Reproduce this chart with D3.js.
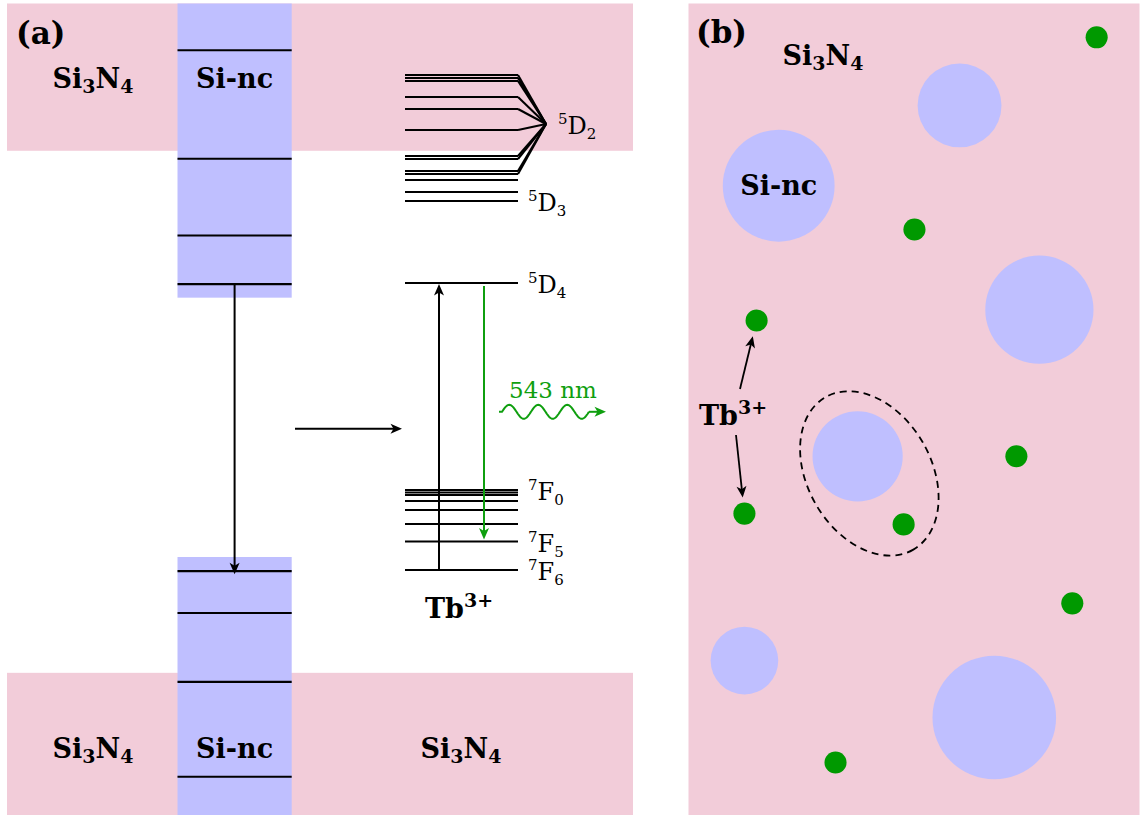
<!DOCTYPE html>
<html>
<head>
<meta charset="utf-8">
<script src="https://cdn.jsdelivr.net/npm/d3@7"></script>
<style>
  html, body { margin: 0; padding: 0; background: #fff; }
  svg { display: block; }
</style>
</head>
<body>
<svg id="fig" width="1140" height="815"></svg>
<script>
// ---------- Energy data (eV, relative to the Tb3+ 7F6 ground state) ----------
const matrixBandEdges = [3.71, -0.91];              // Si3N4 conduction / valence band edge
const ncBandEdges = [2.41, 0.115];                  // Si-nc conduction / valence band edge
const ncConductionLevels = [4.60, 3.64, 2.96, 2.53];
const ncValenceLevels = [-0.01, -0.38, -0.99, -1.83];
const tb5D2Levels = [4.381, 4.354, 4.327, 4.186, 4.080, 3.894, 3.664, 3.637, 3.531, 3.504];
const tb5D2Centroid = 3.947;
const tb5D3Levels = [3.451, 3.345, 3.265];
const tb5D4Levels = [2.54];
const tb7FLevels = [0.708, 0.686, 0.664, 0.611, 0.531, 0.407, 0.252, 0.0];
const termNames = [["5", "D", "2"], ["5", "D", "3"], ["5", "D", "4"], ["7", "F", "0"], ["7", "F", "5"], ["7", "F", "6"]];
const termEnergies = [3.947, 3.265, 2.54, 0.708, 0.252, 0.0];
const transferEnergy = 1.25;     // Si-nc -> Tb3+ energy transfer arrow
const emissionEnergy = 1.40;     // height of the photon arrow
const emissionLabel = "543 nm";

// ---------- Panel (b): film cross-section, positions in nm ----------
const ncX = [60.1, 20.0, 77.8, 37.5, 12.4, 67.8];
const ncY = [22.6, 40.4, 67.9, 100.4, 145.7, 158.3];
const ncR = [9.3, 12.4, 12.0, 10.0, 7.5, 13.7];
const tbX = [90.5, 50.1, 15.1, 72.7, 12.4, 47.7, 85.1, 32.6];
const tbY = [7.5, 50.1, 70.3, 100.4, 113.1, 115.5, 133.0, 168.3];
const tbR = 2.45;
const coupledPair = { cx: 40.1, cy: 104.2, rx: 19.5, ry: 13.7, angle: 60 };
const pointedIons = [2, 4];      // Tb3+ ions indicated by the label arrows

// ---------- Styling ----------
const PINK = "#f2ccd9", BLUE = "#bfbfff", GREEN = "#0f9f0f", DOT = "#009900";
const SERIF = "'DejaVu Serif', serif";

const svg = d3.select("#fig");
const H = 815;

// Energy axis shared by the whole band diagram
const yE = d3.scaleLinear().domain([-2, 5]).range([796, 5]);

// Panel (b) coordinate scales
const xB = d3.scaleLinear().domain([0, 100]).range([688.5, 1139.5]);
const yB = d3.scaleLinear().domain([0, 180]).range([3.5, 815.3]);
const rB = d3.scaleLinear().domain([0, 100]).range([0, 451]);

// Arrow markers
const defs = svg.append("defs");
function addMarker(id, color) {
  defs.append("marker")
    .attr("id", id)
    .attr("viewBox", "-7 -7 15 14")
    .attr("markerUnits", "userSpaceOnUse")
    .attr("markerWidth", 15).attr("markerHeight", 14)
    .attr("refX", 0).attr("refY", 0)
    .attr("orient", "auto")
    .append("path")
    .attr("d", "M6.5,0 L-5,-5 L-2,0 L-5,5 Z")
    .attr("fill", color);
}
addMarker("arrK", "#000");
addMarker("arrG", GREEN);

// Arrow whose head tip lands on (x2, y2)
function arrow(g, x1, y1, x2, y2, color, width) {
  const dx = x2 - x1, dy = y2 - y1, L = Math.hypot(dx, dy);
  const ex = x2 - dx / L * 6.5, ey = y2 - dy / L * 6.5;
  g.append("line")
    .attr("x1", x1).attr("y1", y1).attr("x2", ex).attr("y2", ey)
    .attr("stroke", color).attr("stroke-width", width)
    .attr("marker-end", color === GREEN ? "url(#arrG)" : "url(#arrK)");
}

// Text helper: parts are {t, size, dy}
function richText(g, x, y, parts, anchor, weight, fill) {
  const t = g.append("text")
    .attr("x", x).attr("y", y)
    .attr("text-anchor", anchor || "start")
    .attr("font-family", SERIF)
    .attr("font-weight", weight || "normal")
    .attr("fill", fill || "#000");
  parts.forEach(p => {
    t.append("tspan").attr("font-size", p.size).attr("dy", p.dy || 0).text(p.t);
  });
  return t;
}
const si3n4 = [
  { t: "Si", size: 27 }, { t: "3", size: 19, dy: 5 },
  { t: "N", size: 27, dy: -5 }, { t: "4", size: 19, dy: 5 }
];
const tb3 = [{ t: "Tb", size: 27 }, { t: "3+", size: 19, dy: -11 }];

// ================= Panel (a): energy diagram =================
const a = svg.append("g");
const bandX0 = 7, bandX1 = 633;
const colX0 = 177.5, colX1 = 291.7, colMid = (colX0 + colX1) / 2;
const lvX0 = 405, lvX1 = 518, fanX = 546, termX = 528;

// Si3N4 matrix bands
a.append("rect").attr("x", bandX0).attr("y", 3.5)
  .attr("width", bandX1 - bandX0).attr("height", yE(matrixBandEdges[0]) - 3.5)
  .attr("fill", PINK);
a.append("rect").attr("x", bandX0).attr("y", yE(matrixBandEdges[1]))
  .attr("width", bandX1 - bandX0).attr("height", H - yE(matrixBandEdges[1]))
  .attr("fill", PINK);

// Si-nc bands
a.append("rect").attr("x", colX0).attr("y", 3.5)
  .attr("width", colX1 - colX0).attr("height", yE(ncBandEdges[0]) - 3.5)
  .attr("fill", BLUE);
a.append("rect").attr("x", colX0).attr("y", yE(ncBandEdges[1]))
  .attr("width", colX1 - colX0).attr("height", H - yE(ncBandEdges[1]))
  .attr("fill", BLUE);

// Si-nc confined levels
a.selectAll("line.nc")
  .data(ncConductionLevels.concat(ncValenceLevels))
  .join("line").attr("class", "nc")
  .attr("x1", colX0).attr("x2", colX1)
  .attr("y1", d => yE(d)).attr("y2", d => yE(d))
  .attr("stroke", "#000").attr("stroke-width", 2.1);

// Tb3+ levels
const allTb = tb5D2Levels.concat(tb5D3Levels, tb5D4Levels, tb7FLevels);
a.selectAll("line.tb")
  .data(allTb)
  .join("line").attr("class", "tb")
  .attr("x1", lvX0).attr("x2", lvX1)
  .attr("y1", d => yE(d)).attr("y2", d => yE(d))
  .attr("stroke", "#000").attr("stroke-width", 2.1);

// 5D2 multiplet gathered to its label
a.selectAll("line.fan")
  .data(tb5D2Levels)
  .join("line").attr("class", "fan")
  .attr("x1", lvX1).attr("x2", fanX)
  .attr("y1", d => yE(d)).attr("y2", yE(tb5D2Centroid))
  .attr("stroke", "#000").attr("stroke-width", 2.1);

// Term symbols
termNames.forEach((n, i) => {
  const x = i === 0 ? fanX + 12 : termX;
  richText(a, x, yE(termEnergies[i]) + 10, [
    { t: n[0], size: 15, dy: -10 },
    { t: n[1], size: 24, dy: 10 },
    { t: n[2], size: 15, dy: 5 }
  ]);
});

// Relaxation inside the Si-nc
arrow(a, colMid, yE(ncConductionLevels[3]), colMid, yE(ncValenceLevels[0]) + 3, "#000", 2);

// Energy transfer to Tb3+
arrow(a, 295, yE(transferEnergy), 402, yE(transferEnergy), "#000", 2);

// Tb3+ excitation and 5D4 -> 7F5 emission
arrow(a, 439, yE(tb7FLevels[7]) - 1, 439, yE(tb5D4Levels[0]) + 1, "#000", 2);
arrow(a, 484, yE(tb5D4Levels[0]) + 3, 484, yE(tb7FLevels[6]) - 2, GREEN, 2);

// Emitted photon
const yW = yE(emissionEnergy);
const wx0 = 499, ws = 502, period = 29, nPer = 3, amp = 7;
const wavePts = [[wx0, yW], [ws, yW]];
for (let k = 0; k <= nPer * 40; k++) {
  const x = ws + k * period / 40;
  wavePts.push([x, yW - amp * Math.sin(2 * Math.PI * (x - ws) / period)]);
}
const wEnd = ws + nPer * period;
a.append("path")
  .attr("d", d3.line()(wavePts))
  .attr("fill", "none").attr("stroke", GREEN).attr("stroke-width", 2);
arrow(a, wEnd, yW, 606, yW, GREEN, 2);
richText(a, 553, 398, [{ t: emissionLabel, size: 23 }], "middle", "normal", GREEN);

// Labels
richText(a, 16, 44, [{ t: "(a)", size: 31 }], "start", "bold");
richText(a, 93, 88, si3n4, "middle", "bold");
richText(a, colMid, 88, [{ t: "Si-nc", size: 27 }], "middle", "bold");
richText(a, 93, 758, si3n4, "middle", "bold");
richText(a, colMid, 758, [{ t: "Si-nc", size: 27 }], "middle", "bold");
richText(a, 461, 758, si3n4, "middle", "bold");
richText(a, 459, 618, tb3, "middle", "bold");

// ================= Panel (b): film cross-section =================
const b = svg.append("g");
b.append("rect").attr("x", xB(0)).attr("y", yB(0))
  .attr("width", xB(100) - xB(0)).attr("height", H - yB(0))
  .attr("fill", PINK);

b.selectAll("circle.nc")
  .data(ncX.map((x, i) => ({ x, y: ncY[i], r: ncR[i] })))
  .join("circle").attr("class", "nc")
  .attr("cx", d => xB(d.x)).attr("cy", d => yB(d.y)).attr("r", d => rB(d.r))
  .attr("fill", BLUE);

b.selectAll("circle.tb")
  .data(tbX.map((x, i) => ({ x, y: tbY[i] })))
  .join("circle").attr("class", "tb")
  .attr("cx", d => xB(d.x)).attr("cy", d => yB(d.y)).attr("r", rB(tbR))
  .attr("fill", DOT);

// Coupled Si-nc / Tb3+ pair
b.append("ellipse")
  .attr("cx", xB(coupledPair.cx)).attr("cy", yB(coupledPair.cy))
  .attr("rx", rB(coupledPair.rx)).attr("ry", rB(coupledPair.ry))
  .attr("transform", `rotate(${coupledPair.angle},${xB(coupledPair.cx)},${yB(coupledPair.cy)})`)
  .attr("fill", "none").attr("stroke", "#000")
  .attr("stroke-width", 1.8).attr("stroke-dasharray", "7 5");

richText(b, 696, 43, [{ t: "(b)", size: 31 }], "start", "bold");
richText(b, 823, 65, si3n4, "middle", "bold");
richText(b, xB(ncX[1]), yB(ncY[1]) + 9, [{ t: "Si-nc", size: 27 }], "middle", "bold");
richText(b, 733, 425, tb3, "middle", "bold");

// Label arrows towards individual Tb3+ ions
const starts = [[740, 389], [736, 435]];
pointedIons.forEach((idx, k) => {
  const tx = xB(tbX[idx]), ty = yB(tbY[idx]);
  const [sx, sy] = starts[k];
  const L = Math.hypot(tx - sx, ty - sy), s = (L - rB(tbR) - 5) / L;
  arrow(b, sx, sy, sx + (tx - sx) * s, sy + (ty - sy) * s, "#000", 1.8);
});
</script>
</body>
</html>
